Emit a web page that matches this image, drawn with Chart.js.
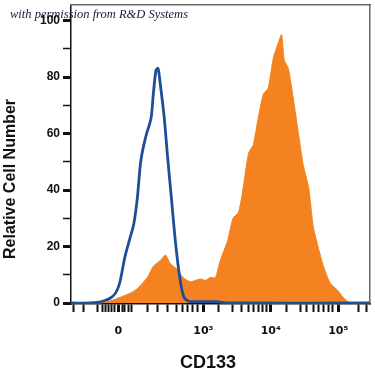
<!DOCTYPE html>
<html>
<head>
<meta charset="utf-8">
<script src="https://cdn.jsdelivr.net/npm/chart.js"></script>
<style>
  body { margin: 0; background: #fff; }
  #wrap { position: relative; width: 375px; height: 375px; }
  #note {
    position: absolute; left: 10px; top: 8px;
    font: italic 12.5px "Liberation Serif", serif; line-height: 1;
    color: #1a1a3a; white-space: nowrap;
  }
</style>
</head>
<body>
<div id="wrap">
  <canvas id="myChart" width="375" height="375"></canvas>
  <div id="note">with permission from R&amp;D Systems</div>
</div>
<script>
// x positions are in display units: 3 = 10^3, 4 = 10^4, 5 = 10^5 (biexponential axis)
const isotypeX = [1.04, 1.33, 1.43, 1.53, 1.62, 1.70, 1.76, 1.84, 1.92, 1.97, 2.02, 2.07, 2.11, 2.16, 2.20, 2.23, 2.26, 2.30, 2.33, 2.36, 2.42, 2.47, 2.53, 2.59, 2.65, 2.71, 2.78, 2.86, 2.96, 3.10, 3.20, 3.28, 3.40, 5.47];
const isotypeY = [0, 0, 0.2, 0.8, 1.7, 3.5, 7, 16.4, 23.5, 28, 36.5, 49.5, 55, 60, 63, 66, 74, 82.5, 83, 78, 66, 52, 36.5, 21, 9.3, 2.2, 0.6, 0.5, 0.5, 0.5, 0.5, 0.2, 0, 0];

const cd133X = [1.04, 1.47, 1.62, 1.77, 1.92, 2.02, 2.17, 2.26, 2.36, 2.44, 2.51, 2.61, 2.70, 2.81, 2.88, 2.96, 3.03, 3.10, 3.18, 3.25, 3.36, 3.44, 3.52, 3.58, 3.67, 3.74, 3.81, 3.89, 3.96, 4.04, 4.11, 4.16, 4.20, 4.26, 4.33, 4.41, 4.48, 4.56, 4.63, 4.70, 4.78, 4.88, 4.99, 5.07, 5.18, 5.47];
const cd133Y = [0, 0, 0.7, 2, 3.5, 5, 9, 13, 15, 17, 14, 12, 9, 7.5, 8, 8.5, 8, 9, 9, 15, 22, 30, 32, 39, 53, 56, 65, 74, 76, 87, 92, 95, 86, 83, 73, 60, 49, 41, 27, 20, 13, 7, 4.5, 2, 0, 0];

const xMajorPos = [1.74, 3, 4, 5];
const xMajorLabels = ['0', '10\u00B3', '10\u2074', '10\u2075'];
const xMinorPos = [1.07, 1.22, 1.44, 1.50, 1.55, 1.60, 1.64, 1.68, 1.80, 1.84, 1.89, 1.94, 2.17, 2.32, 2.47, 2.61, 2.69, 2.76, 2.84, 2.91,
  3.22, 3.44, 3.56, 3.67, 3.75, 3.82, 3.88, 3.94, 4.24, 4.44, 4.53, 4.63, 4.71, 4.78, 4.85, 4.92, 5.3, 5.42];
const yTicks = [0, 5, 10, 15, 20, 25, 30, 35, 40, 45, 50, 55, 60, 65, 70, 75, 80, 85, 90, 95, 100];

const toPoints = (xs, ys) => xs.map((x, i) => ({x: x, y: ys[i]}));

const font = "'Liberation Sans', Arial, sans-serif";

// fixed axis box sizes, and no extra label padding around the plot area
const fixBox = (w, h) => (s) => {
  if (w !== null) s.width = w;
  if (h !== null) s.height = h;
  s.paddingLeft = s.paddingRight = s.paddingTop = s.paddingBottom = 0;
};

const data = {
  datasets: [{
    label: 'Isotype',
    data: toPoints(isotypeX, isotypeY),
    borderColor: 'rgb(30, 78, 152)',
    borderWidth: 2.8,
    pointRadius: 0,
    tension: 0.3,
    fill: false
  }, {
    label: 'CD133',
    data: toPoints(cd133X, cd133Y),
    borderColor: 'rgb(245, 130, 32)',
    backgroundColor: 'rgb(245, 130, 32)',
    borderWidth: 1,
    pointRadius: 0,
    tension: 0.2,
    fill: 'origin'
  }]
};

const config = {
  type: 'line',
  data: data,
  options: {
    responsive: false,
    animation: false,
    devicePixelRatio: 1,
    layout: { padding: { top: 5, right: 5, left: 0, bottom: 0 } },
    plugins: { legend: { display: false }, tooltip: { enabled: false } },
    scales: {
      x: {
        type: 'linear',
        min: 1.04,
        max: 5.47,
        afterBuildTicks: (s) => {
          s.ticks = xMinorPos.concat(xMajorPos).sort((a, b) => a - b).map(v => ({value: v}));
        },
        afterFit: fixBox(null, 71),
        border: { display: true, color: '#111', width: 1.5 },
        grid: {
          drawOnChartArea: false,
          tickLength: 8,
          tickColor: '#111',
          tickWidth: (ctx) => xMajorPos.includes(ctx.tick.value) ? 3 : 2
        },
        ticks: {
          autoSkip: false,
          maxRotation: 0,
          padding: 13,
          color: '#111',
          font: { family: "'DejaVu Sans', sans-serif", size: 11, weight: 'bold' },
          callback: (v) => {
            const i = xMajorPos.indexOf(v);
            return i >= 0 ? xMajorLabels[i] : '';
          }
        },
        title: {
          display: true,
          text: 'CD133     ',
          color: '#111',
          font: { family: font, size: 18, weight: 'bold' },
          padding: { top: 0, bottom: 1 }
        }
      },
      y: {
        type: 'linear',
        min: -0.35,
        max: 105.5,
        afterBuildTicks: (s) => { s.ticks = yTicks.map(v => ({value: v})); },
        afterFit: fixBox(71, null),
        border: { display: true, color: '#111', width: 1.5 },
        grid: {
          drawOnChartArea: false,
          tickLength: 8,
          tickColor: '#111',
          tickWidth: (ctx) => ctx.tick.value % 20 === 0 ? 3 : 1.5
        },
        ticks: {
          padding: 3,
          color: '#111',
          font: { family: font, size: 12, weight: 'bold' },
          callback: (v) => v % 20 === 0 ? String(v) : ''
        },
        title: {
          display: true,
          text: 'Relative Cell Number           ',
          color: '#111',
          font: { family: font, size: 16, weight: 'bold' },
          padding: { top: 1, bottom: 0 }
        }
      },
      xTop: {
        type: 'linear',
        position: 'top',
        afterFit: fixBox(null, 0),
        border: { display: true, color: '#666', width: 1.5 },
        grid: { drawOnChartArea: false, drawTicks: false },
        ticks: { display: false }
      },
      yRight: {
        type: 'linear',
        position: 'right',
        afterFit: fixBox(0, null),
        border: { display: true, color: '#666', width: 1.5 },
        grid: { drawOnChartArea: false, drawTicks: false },
        ticks: { display: false }
      }
    }
  }
};

const myChart = new Chart(document.getElementById('myChart'), config);
</script>
</body>
</html>
